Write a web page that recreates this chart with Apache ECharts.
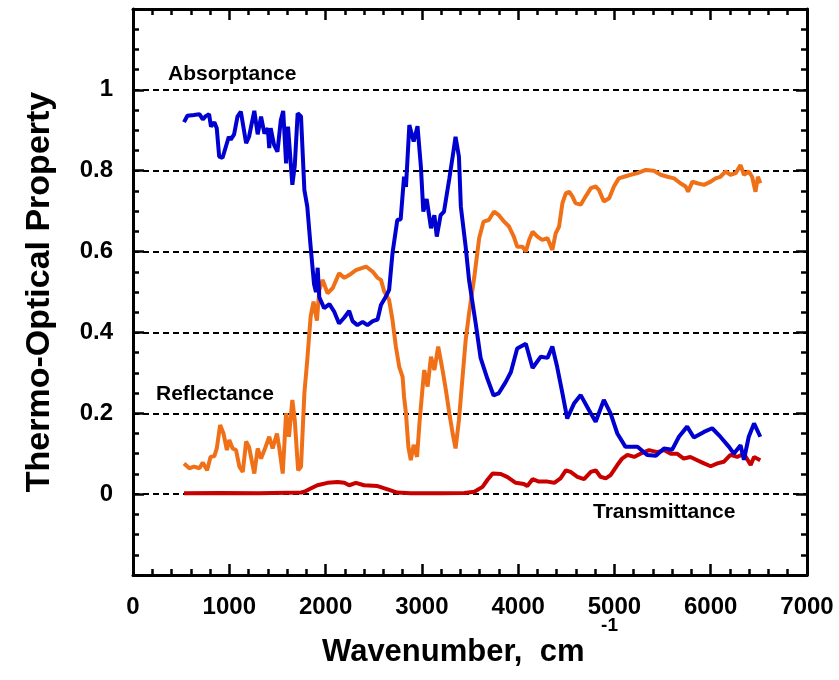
<!DOCTYPE html>
<html>
<head>
<meta charset="utf-8">
<script src="https://cdn.jsdelivr.net/npm/echarts@6/dist/echarts.min.js"></script>
<style>
html,body{margin:0;padding:0;background:#fff;}
#chart{width:839px;height:680px;}
</style>
</head>
<body>
<div id="chart"></div>
<script>
// wavenumber (cm-1) / value pairs
var absWn = [530,565,635,690,725,755,790,810,845,870,895,930,965,995,1015,1050,1085,1120,1175,1205,1260,1295,1330,1365,1400,1415,1430,1465,1500,1535,1560,1590,1610,1655,1680,1710,1745,1780,1810,1845,1880,1900,1918,1935,1985,2040,2090,2140,2195,2245,2280,2330,2385,2435,2490,2540,2575,2625,2660,2695,2745,2780,2815,2835,2870,2915,2955,2990,3015,3050,3095,3130,3155,3195,3230,3285,3320,3350,3385,3405,3455,3490,3560,3610,3680,3745,3800,3870,3925,3990,4080,4150,4235,4305,4355,4405,4460,4510,4580,4650,4735,4805,4890,4960,5030,5115,5240,5340,5430,5515,5600,5670,5755,5825,5930,6015,6100,6190,6240,6310,6345,6395,6450,6515];
var absorptance = [0.92,0.936,0.938,0.94,0.927,0.935,0.94,0.909,0.92,0.905,0.835,0.832,0.86,0.884,0.877,0.89,0.934,0.946,0.868,0.884,0.948,0.89,0.934,0.892,0.905,0.856,0.905,0.864,0.847,0.925,0.948,0.818,0.909,0.765,0.812,0.942,0.934,0.752,0.711,0.612,0.52,0.5,0.56,0.487,0.46,0.47,0.451,0.422,0.437,0.453,0.428,0.418,0.426,0.418,0.428,0.432,0.468,0.488,0.505,0.596,0.678,0.68,0.785,0.76,0.913,0.872,0.91,0.81,0.699,0.73,0.658,0.69,0.637,0.69,0.699,0.78,0.835,0.884,0.835,0.711,0.612,0.53,0.421,0.337,0.286,0.244,0.25,0.277,0.302,0.36,0.372,0.312,0.34,0.337,0.365,0.315,0.249,0.187,0.224,0.245,0.208,0.179,0.233,0.2,0.15,0.117,0.117,0.097,0.095,0.113,0.11,0.142,0.167,0.14,0.154,0.163,0.142,0.117,0.1,0.121,0.085,0.142,0.175,0.142];

var refWn = [530,585,635,690,725,770,805,845,870,905,940,975,1000,1035,1070,1105,1140,1175,1205,1260,1295,1330,1365,1415,1450,1495,1520,1555,1590,1620,1655,1680,1715,1745,1780,1810,1845,1875,1910,1935,1970,2020,2075,2140,2195,2245,2315,2420,2490,2540,2575,2610,2660,2695,2730,2765,2800,2815,2835,2860,2885,2915,2950,2975,3005,3025,3060,3095,3130,3170,3215,3250,3285,3320,3350,3385,3420,3455,3490,3545,3595,3640,3695,3750,3800,3855,3905,3955,3990,4045,4080,4115,4150,4200,4250,4305,4355,4390,4425,4460,4495,4530,4565,4595,4650,4700,4755,4805,4840,4890,4945,4995,5045,5100,5170,5240,5325,5410,5480,5550,5620,5685,5740,5765,5810,5860,5930,6000,6050,6100,6155,6205,6260,6310,6345,6395,6430,6465,6490,6515];
var reflectance = [0.076,0.064,0.068,0.064,0.078,0.059,0.092,0.094,0.113,0.171,0.15,0.109,0.134,0.113,0.109,0.068,0.055,0.13,0.117,0.051,0.113,0.088,0.109,0.142,0.113,0.15,0.113,0.051,0.2,0.142,0.233,0.183,0.059,0.068,0.25,0.332,0.439,0.476,0.429,0.505,0.53,0.497,0.51,0.546,0.535,0.542,0.554,0.563,0.55,0.535,0.53,0.501,0.48,0.431,0.365,0.315,0.29,0.241,0.2,0.117,0.084,0.122,0.092,0.175,0.257,0.307,0.266,0.34,0.307,0.365,0.307,0.257,0.2,0.15,0.113,0.183,0.282,0.381,0.447,0.538,0.633,0.674,0.678,0.699,0.69,0.674,0.662,0.637,0.612,0.612,0.6,0.629,0.649,0.637,0.629,0.633,0.604,0.645,0.662,0.72,0.744,0.748,0.736,0.72,0.716,0.736,0.757,0.761,0.752,0.724,0.732,0.761,0.781,0.785,0.79,0.794,0.802,0.8,0.79,0.785,0.781,0.769,0.761,0.748,0.773,0.769,0.765,0.773,0.781,0.785,0.798,0.79,0.794,0.814,0.79,0.798,0.785,0.748,0.785,0.769];

var trnWn = [530,900,1300,1745,1780,1845,1915,2020,2125,2195,2245,2315,2400,2540,2645,2745,2885,3200,3440,3545,3630,3680,3735,3820,3890,3975,4060,4095,4150,4215,4305,4375,4440,4495,4545,4615,4685,4755,4805,4855,4910,4960,5030,5080,5135,5205,5270,5360,5445,5515,5585,5650,5720,5790,5860,5930,6000,6070,6135,6205,6275,6345,6415,6450,6515];
var transmittance = [0.002,0.003,0.002,0.004,0.006,0.014,0.022,0.028,0.03,0.028,0.022,0.028,0.022,0.02,0.012,0.004,0.002,0.002,0.003,0.006,0.018,0.035,0.051,0.05,0.042,0.028,0.025,0.02,0.037,0.031,0.031,0.028,0.039,0.059,0.055,0.043,0.037,0.055,0.059,0.043,0.039,0.047,0.072,0.088,0.097,0.092,0.1,0.109,0.104,0.109,0.1,0.1,0.088,0.092,0.084,0.076,0.069,0.076,0.08,0.097,0.092,0.1,0.072,0.092,0.084];

var xTicks = {min: 0, max: 7000, interval: 1000};
var yTicks = {min: -0.2, max: 1.2, interval: 0.2};

function pairs(xs, ys) {
  return xs.map(function (x, i) { return [x, ys[i]]; });
}

var font = 'Liberation Sans, Arial, sans-serif';
var frame = {show: true, onZero: false, lineStyle: {color: '#000', width: 3}};

function xAx(pos, labels) {
  return {
    type: 'value', position: pos, min: xTicks.min, max: xTicks.max, interval: xTicks.interval,
    axisLine: frame,
    axisTick: {show: true, inside: true, length: 11, lineStyle: {color: '#000', width: 2.5}},
    minorTick: {show: true, splitNumber: 5, length: 6, lineStyle: {color: '#000', width: 2.5}},
    splitLine: {show: false},
    axisLabel: {show: labels, color: '#000', fontFamily: font, fontWeight: 'bold', fontSize: 24, margin: 20,
      formatter: function (v) { return String(v); }}
  };
}
function yAx(pos, labels) {
  return {
    type: 'value', position: pos, min: yTicks.min, max: yTicks.max, interval: yTicks.interval,
    axisLine: frame,
    axisTick: {show: true, inside: true, length: 11, lineStyle: {color: '#000', width: 2.5}},
    minorTick: {show: true, splitNumber: 4, length: 6, lineStyle: {color: '#000', width: 2.5}},
    splitLine: {show: labels, lineStyle: {color: '#000', width: 2, type: [6, 4]}},
    axisLabel: {
      show: labels, color: '#000', fontFamily: font, fontWeight: 'bold', fontSize: 24, margin: 20,
      formatter: function (v) { return (v < -0.01 || v > 1.01) ? '' : String(+v.toFixed(1)); }
    }
  };
}

var xBottom = xAx('bottom', true);
xBottom.name = '{t|Wavenumber,  cm }{s|-1}';
xBottom.nameLocation = 'middle';
xBottom.nameGap = 41;
xBottom.nameMoveOverlap = false;
xBottom.nameTextStyle = {
  rich: {
    t: {fontFamily: font, fontWeight: 'bold', fontSize: 31, color: '#000', lineHeight: 52, verticalAlign: 'bottom'},
    s: {fontFamily: font, fontWeight: 'bold', fontSize: 19, color: '#000', lineHeight: 12, verticalAlign: 'top', padding: [0, 0, 0, 8]}
  }
};
var yLeft = yAx('left', true);
yLeft.name = 'Thermo-Optical Property';
yLeft.nameLocation = 'middle';
yLeft.nameGap = 76;
yLeft.nameTextStyle = {fontFamily: font, fontWeight: 'bold', fontSize: 34, color: '#000'};

function line(name, xs, ys, color) {
  return {
    name: name, type: 'line', data: pairs(xs, ys), showSymbol: false, symbol: 'none',
    lineStyle: {color: color, width: 4}, itemStyle: {color: color}, z: 3
  };
}

var chart = echarts.init(document.getElementById('chart'));
chart.setOption({
  animation: false,
  backgroundColor: '#fff',
  grid: {left: 133, right: 32, top: 9, bottom: 105, outerBoundsMode: 'none'},
  xAxis: [xBottom, xAx('top', false)],
  yAxis: [yLeft, yAx('right', false)],
  series: [
    line('Transmittance', trnWn, transmittance, '#c80000'),
    line('Reflectance', refWn, reflectance, '#f07018'),
    line('Absorptance', absWn, absorptance, '#0000d0')
  ],
  graphic: [
    {type: 'text', left: 168, top: 64, style: {text: 'Absorptance', font: 'bold 21px ' + font, fill: '#000'}},
    {type: 'text', left: 156, top: 384, style: {text: 'Reflectance', font: 'bold 21px ' + font, fill: '#000'}},
    {type: 'text', left: 593, top: 502, style: {text: 'Transmittance', font: 'bold 21px ' + font, fill: '#000'}}
  ]
});
</script>
</body>
</html>
